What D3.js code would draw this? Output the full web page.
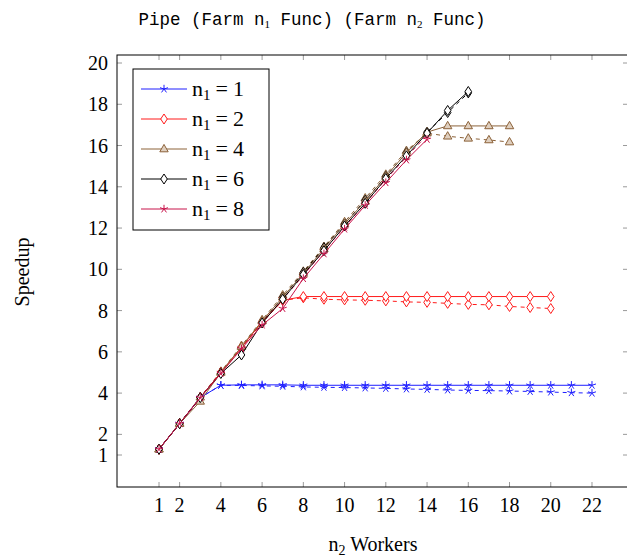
<!DOCTYPE html>
<html>
<head>
<meta charset="utf-8">
<script src="https://cdn.jsdelivr.net/npm/d3@7"></script>
<style>
  body { margin: 0; background: #fff; }
  svg { display: block; }
</style>
</head>
<body>
<div id="chart"></div>
<script>
// Speedup per n2 workers, one solid and one dashed run per n1
const workers = d3.range(1, 23);
const xTicks = [1, 2, 4, 6, 8, 10, 12, 14, 16, 18, 20, 22];
const yTicks = [1, 2, 4, 6, 8, 10, 12, 14, 16, 18, 20];

const blueSolid = [1.28, 2.52, 3.78, 4.38, 4.4, 4.4, 4.4, 4.38, 4.38, 4.38, 4.38, 4.38, 4.38, 4.38, 4.38, 4.38, 4.38, 4.38, 4.38, 4.38, 4.38, 4.38];
const blueDashed = [1.28, 2.52, 3.78, 4.38, 4.37, 4.35, 4.33, 4.3, 4.28, 4.27, 4.25, 4.23, 4.2, 4.18, 4.15, 4.13, 4.12, 4.1, 4.08, 4.05, 4.02, 4.0];
const redSolid = [1.28, 2.52, 3.78, 5.0, 6.22, 7.45, 8.5, 8.68, 8.68, 8.68, 8.68, 8.68, 8.68, 8.68, 8.68, 8.68, 8.68, 8.68, 8.68, 8.68];
const redDashed = [1.28, 2.52, 3.78, 5.0, 6.2, 7.42, 8.5, 8.62, 8.55, 8.52, 8.5, 8.47, 8.42, 8.4, 8.35, 8.3, 8.28, 8.2, 8.15, 8.1];
const brownSolid = [1.28, 2.52, 3.6, 5.0, 6.25, 7.5, 8.65, 9.8, 11.0, 12.2, 13.3, 14.5, 15.65, 16.65, 16.95, 16.95, 16.95, 16.95];
const brownDashed = [1.28, 2.55, 3.8, 5.05, 6.3, 7.55, 8.75, 9.9, 11.1, 12.3, 13.45, 14.6, 15.75, 16.6, 16.45, 16.35, 16.27, 16.17];
const blackSolid = [1.28, 2.52, 3.78, 4.95, 5.85, 7.4, 8.55, 9.75, 10.9, 12.1, 13.2, 14.4, 15.5, 16.6, 17.7, 18.62];
const blackDashed = [1.28, 2.52, 3.78, 5.0, 6.2, 7.45, 8.65, 9.85, 11.05, 12.2, 13.35, 14.5, 15.65, 16.65, 17.6, 18.55];
const crimsonSolid = [1.28, 2.52, 3.78, 4.95, 6.15, 7.3, 8.1, 9.55, 10.75, 11.95, 13.1, 14.2, 15.3, 16.3];
const crimsonDashed = [1.28, 2.52, 3.78, 5.0, 6.2, 7.4, 8.55, 9.7, 10.9, 12.05, 13.2, 14.35, 15.45, 16.5];

const series = [
    { n1: 1, color: '#1f1fff', mark: 'star', solid: blueSolid, dashed: blueDashed },
    { n1: 2, color: '#ff1a1a', mark: 'diamond', solid: redSolid, dashed: redDashed },
    { n1: 4, color: '#8c6239', mark: 'triangle', solid: brownSolid, dashed: brownDashed },
    { n1: 6, color: '#000000', mark: 'diamond', solid: blackSolid, dashed: blackDashed },
    { n1: 8, color: '#c8144b', mark: 'star', solid: crimsonSolid, dashed: crimsonDashed }
];

const width = 627, height = 558;
const plot = { left: 117, right: 628, top: 55, bottom: 487 };

const svg = d3.select('#chart').append('svg')
    .attr('width', width)
    .attr('height', height);

const x = d3.scaleLinear().domain([-1.037, 23.746]).range([plot.left, plot.right]);
const y = d3.scaleLinear().domain([-0.551, 20.388]).range([plot.bottom, plot.top]);

const serif = "'Liberation Serif', 'DejaVu Serif', serif";
const mono = "'Liberation Mono', 'DejaVu Sans Mono', monospace";

// title
const title = svg.append('text')
    .attr('x', 312).attr('y', 25)
    .attr('text-anchor', 'middle')
    .style('font-family', mono).style('font-size', '17.5px');
title.append('tspan').text('Pipe (Farm n');
title.append('tspan').attr('dy', 3).style('font-size', '11px').style('font-family', serif).text('1');
title.append('tspan').attr('dy', -3).text(' Func) (Farm n');
title.append('tspan').attr('dy', 3).style('font-size', '11px').style('font-family', serif).text('2');
title.append('tspan').attr('dy', -3).text(' Func)');

// ticks (gray, inside on all four sides)
const tickLen = 5;
const ticks = svg.append('g').attr('stroke', '#9a9a9a').attr('stroke-width', 1);
xTicks.forEach(t => {
    ticks.append('line').attr('x1', x(t)).attr('x2', x(t)).attr('y1', plot.bottom).attr('y2', plot.bottom - tickLen);
    ticks.append('line').attr('x1', x(t)).attr('x2', x(t)).attr('y1', plot.top).attr('y2', plot.top + tickLen);
});
yTicks.forEach(t => {
    ticks.append('line').attr('y1', y(t)).attr('y2', y(t)).attr('x1', plot.left).attr('x2', plot.left + tickLen);
    ticks.append('line').attr('y1', y(t)).attr('y2', y(t)).attr('x1', plot.right).attr('x2', plot.right - tickLen);
});

// frame
svg.append('rect')
    .attr('x', plot.left).attr('y', plot.top)
    .attr('width', plot.right - plot.left).attr('height', plot.bottom - plot.top)
    .attr('fill', 'none').attr('stroke', '#000').attr('stroke-width', 1);

// tick labels
svg.append('g').selectAll('text').data(xTicks).enter().append('text')
    .attr('x', d => x(d)).attr('y', plot.bottom + 25)
    .attr('text-anchor', 'middle')
    .style('font-family', serif).style('font-size', '20px')
    .text(d => d);
svg.append('g').selectAll('text').data(yTicks).enter().append('text')
    .attr('x', plot.left - 9).attr('y', d => y(d) + 7)
    .attr('text-anchor', 'end')
    .style('font-family', serif).style('font-size', '20px')
    .text(d => d);

// axis labels
const xl = svg.append('text')
    .attr('x', 373).attr('y', 551)
    .attr('text-anchor', 'middle')
    .style('font-family', serif).style('font-size', '20px');
xl.append('tspan').text('n');
xl.append('tspan').attr('dy', 4).style('font-size', '14px').text('2');
xl.append('tspan').attr('dy', -4).text(' Workers');

svg.append('text')
    .attr('transform', 'translate(29,272) rotate(-90)')
    .attr('text-anchor', 'middle')
    .style('font-family', serif).style('font-size', '20px')
    .text('Speedup');

// marker shapes
function markPath(kind) {
    if (kind === 'star') {
        const r = 4.2;
        let p = '';
        for (let i = 0; i < 5; i++) {
            const a = -Math.PI / 2 + i * 2 * Math.PI / 5;
            p += `M0,0L${(r * Math.cos(a)).toFixed(2)},${(r * Math.sin(a)).toFixed(2)}`;
        }
        return p;
    }
    if (kind === 'diamond') return 'M0,-5L3.3,0L0,5L-3.3,0Z';
    return 'M0,-4.6L4.2,2.8L-4.2,2.8Z';
}
function markFill(s) {
    if (s.mark === 'triangle') return '#dfcfbf';
    if (s.mark === 'diamond') return '#fff';
    return 'none';
}

const line = d3.line().x((d, i) => x(workers[i])).y(d => y(d));
svg.append('clipPath').attr('id', 'clip').append('rect')
    .attr('x', plot.left).attr('y', plot.top)
    .attr('width', plot.right - plot.left).attr('height', plot.bottom - plot.top);

const plotArea = svg.append('g').attr('clip-path', 'url(#clip)');

function drawRun(s, values, dashed) {
    const g = plotArea.append('g');
    g.append('path')
        .attr('d', line(values))
        .attr('fill', 'none')
        .attr('stroke', s.color)
        .attr('stroke-width', 1)
        .attr('stroke-dasharray', dashed ? '4,4' : null);
    g.selectAll('path.mark').data(values).enter().append('path')
        .attr('class', 'mark')
        .attr('transform', (d, i) => `translate(${x(workers[i])},${y(d)})`)
        .attr('d', markPath(s.mark))
        .attr('fill', markFill(s))
        .attr('stroke', s.color)
        .attr('stroke-width', 1);
}

series.forEach(s => drawRun(s, s.dashed, true));
series.forEach(s => drawRun(s, s.solid, false));

// legend
const legend = svg.append('g').attr('transform', 'translate(133,69)');
legend.append('rect')
    .attr('width', 136).attr('height', 161)
    .attr('fill', '#fff').attr('stroke', '#000').attr('stroke-width', 1);
series.forEach((s, i) => {
    const ly = 20 + i * 30;
    legend.append('line')
        .attr('x1', 8).attr('x2', 54).attr('y1', ly).attr('y2', ly)
        .attr('stroke', s.color).attr('stroke-width', 1);
    legend.append('path')
        .attr('transform', `translate(31,${ly})`)
        .attr('d', markPath(s.mark))
        .attr('fill', markFill(s))
        .attr('stroke', s.color).attr('stroke-width', 1);
    const t = legend.append('text')
        .attr('x', 59).attr('y', ly + 7)
        .style('font-family', serif).style('font-size', '22px');
    t.append('tspan').text('n');
    t.append('tspan').attr('dy', 4).style('font-size', '15px').text('1');
    t.append('tspan').attr('dy', -4).attr('dx', 5).text('=');
    t.append('tspan').attr('dx', 5).text(s.n1);
});
</script>
</body>
</html>
